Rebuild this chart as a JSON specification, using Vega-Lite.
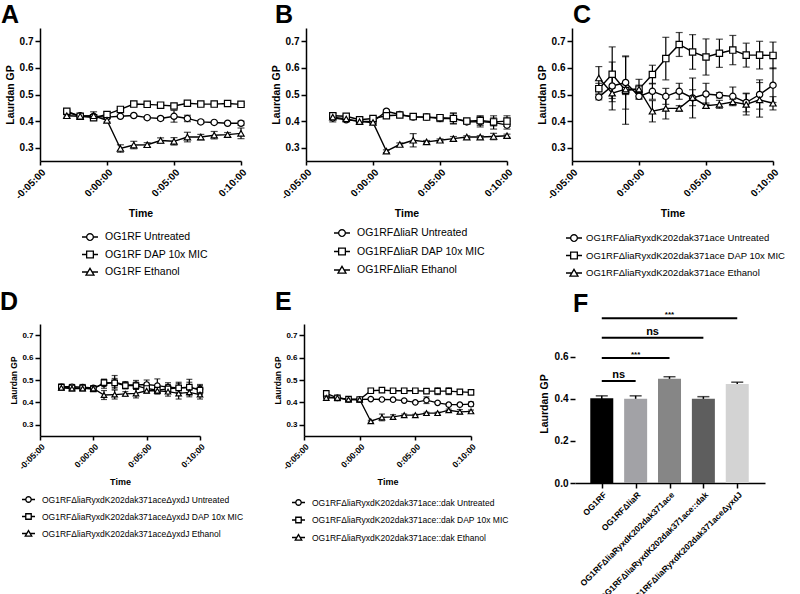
{
"$schema":"https://vega.github.io/schema/vega-lite/v6.json",
"background":"white",
"padding":{"top":3,"left":0,"right":0,"bottom":0},
"config":{"font":"Liberation Sans","view":{"stroke":null},
 "axis":{"grid":false,"domainColor":"black","domainWidth":1.5,"tickColor":"black","tickWidth":1.5,"tickSize":5,"labelColor":"black","labelFontWeight":"bold","titleColor":"black","titleFontWeight":"bold","labelPadding":2,"labelFlush":false},
 "legend":{"labelFont":"Liberation Sans","labelColor":"black","labelLimit":400,"symbolStrokeColor":"black","symbolStrokeWidth":1.3},
 "title":{"anchor":"start","frame":"group","fontSize":25,"fontWeight":"bold","color":"black","baseline":"alphabetic","font":"Liberation Sans"}},
"datasets":{
"ts":[
{"p":"A","g":"Untreated","t":-3,"m":0.432,"e":0.008},{"p":"A","g":"Untreated","t":-2,"m":0.42,"e":0.006},{"p":"A","g":"Untreated","t":-1,"m":0.418,"e":0.005},{"p":"A","g":"Untreated","t":0,"m":0.415,"e":0.006},{"p":"A","g":"Untreated","t":1,"m":0.418,"e":0.004},{"p":"A","g":"Untreated","t":2,"m":0.421,"e":0.004},{"p":"A","g":"Untreated","t":3,"m":0.413,"e":0.004},{"p":"A","g":"Untreated","t":4,"m":0.41,"e":0.006},{"p":"A","g":"Untreated","t":5,"m":0.418,"e":0.022},{"p":"A","g":"Untreated","t":6,"m":0.41,"e":0.012},{"p":"A","g":"Untreated","t":7,"m":0.397,"e":0.006},{"p":"A","g":"Untreated","t":8,"m":0.395,"e":0.004},{"p":"A","g":"Untreated","t":9,"m":0.392,"e":0.003},{"p":"A","g":"Untreated","t":10,"m":0.392,"e":0.008},
{"p":"A","g":"DAP 10x MIC","t":-3,"m":0.437,"e":0.006},{"p":"A","g":"DAP 10x MIC","t":-2,"m":0.418,"e":0.006},{"p":"A","g":"DAP 10x MIC","t":-1,"m":0.413,"e":0.005},{"p":"A","g":"DAP 10x MIC","t":0,"m":0.425,"e":0.01},{"p":"A","g":"DAP 10x MIC","t":1,"m":0.444,"e":0.004},{"p":"A","g":"DAP 10x MIC","t":2,"m":0.464,"e":0.004},{"p":"A","g":"DAP 10x MIC","t":3,"m":0.463,"e":0.004},{"p":"A","g":"DAP 10x MIC","t":4,"m":0.46,"e":0.004},{"p":"A","g":"DAP 10x MIC","t":5,"m":0.457,"e":0.006},{"p":"A","g":"DAP 10x MIC","t":6,"m":0.467,"e":0.005},{"p":"A","g":"DAP 10x MIC","t":7,"m":0.464,"e":0.004},{"p":"A","g":"DAP 10x MIC","t":8,"m":0.464,"e":0.004},{"p":"A","g":"DAP 10x MIC","t":9,"m":0.466,"e":0.004},{"p":"A","g":"DAP 10x MIC","t":10,"m":0.463,"e":0.004},
{"p":"A","g":"Ethanol","t":-3,"m":0.42,"e":0.005},{"p":"A","g":"Ethanol","t":-2,"m":0.418,"e":0.005},{"p":"A","g":"Ethanol","t":-1,"m":0.42,"e":0.015},{"p":"A","g":"Ethanol","t":0,"m":0.403,"e":0.006},{"p":"A","g":"Ethanol","t":1,"m":0.297,"e":0.014},{"p":"A","g":"Ethanol","t":2,"m":0.31,"e":0.014},{"p":"A","g":"Ethanol","t":3,"m":0.311,"e":0.008},{"p":"A","g":"Ethanol","t":4,"m":0.327,"e":0.01},{"p":"A","g":"Ethanol","t":5,"m":0.324,"e":0.014},{"p":"A","g":"Ethanol","t":6,"m":0.34,"e":0.018},{"p":"A","g":"Ethanol","t":7,"m":0.34,"e":0.01},{"p":"A","g":"Ethanol","t":8,"m":0.347,"e":0.014},{"p":"A","g":"Ethanol","t":9,"m":0.349,"e":0.008},{"p":"A","g":"Ethanol","t":10,"m":0.354,"e":0.02},
{"p":"B","g":"Untreated","t":-3,"m":0.412,"e":0.015},{"p":"B","g":"Untreated","t":-2,"m":0.405,"e":0.006},{"p":"B","g":"Untreated","t":-1,"m":0.4,"e":0.006},{"p":"B","g":"Untreated","t":0,"m":0.398,"e":0.008},{"p":"B","g":"Untreated","t":1,"m":0.437,"e":0.006},{"p":"B","g":"Untreated","t":2,"m":0.425,"e":0.006},{"p":"B","g":"Untreated","t":3,"m":0.415,"e":0.005},{"p":"B","g":"Untreated","t":4,"m":0.415,"e":0.005},{"p":"B","g":"Untreated","t":5,"m":0.41,"e":0.012},{"p":"B","g":"Untreated","t":6,"m":0.41,"e":0.02},{"p":"B","g":"Untreated","t":7,"m":0.397,"e":0.006},{"p":"B","g":"Untreated","t":8,"m":0.398,"e":0.02},{"p":"B","g":"Untreated","t":9,"m":0.395,"e":0.025},{"p":"B","g":"Untreated","t":10,"m":0.385,"e":0.015},
{"p":"B","g":"DAP 10x MIC","t":-3,"m":0.42,"e":0.01},{"p":"B","g":"DAP 10x MIC","t":-2,"m":0.418,"e":0.006},{"p":"B","g":"DAP 10x MIC","t":-1,"m":0.405,"e":0.008},{"p":"B","g":"DAP 10x MIC","t":0,"m":0.41,"e":0.008},{"p":"B","g":"DAP 10x MIC","t":1,"m":0.42,"e":0.006},{"p":"B","g":"DAP 10x MIC","t":2,"m":0.423,"e":0.005},{"p":"B","g":"DAP 10x MIC","t":3,"m":0.417,"e":0.005},{"p":"B","g":"DAP 10x MIC","t":4,"m":0.415,"e":0.005},{"p":"B","g":"DAP 10x MIC","t":5,"m":0.413,"e":0.005},{"p":"B","g":"DAP 10x MIC","t":6,"m":0.41,"e":0.02},{"p":"B","g":"DAP 10x MIC","t":7,"m":0.4,"e":0.005},{"p":"B","g":"DAP 10x MIC","t":8,"m":0.402,"e":0.018},{"p":"B","g":"DAP 10x MIC","t":9,"m":0.397,"e":0.015},{"p":"B","g":"DAP 10x MIC","t":10,"m":0.4,"e":0.02},
{"p":"B","g":"Ethanol","t":-3,"m":0.415,"e":0.006},{"p":"B","g":"Ethanol","t":-2,"m":0.408,"e":0.005},{"p":"B","g":"Ethanol","t":-1,"m":0.398,"e":0.005},{"p":"B","g":"Ethanol","t":0,"m":0.395,"e":0.005},{"p":"B","g":"Ethanol","t":1,"m":0.287,"e":0.005},{"p":"B","g":"Ethanol","t":2,"m":0.312,"e":0.006},{"p":"B","g":"Ethanol","t":3,"m":0.328,"e":0.025},{"p":"B","g":"Ethanol","t":4,"m":0.322,"e":0.005},{"p":"B","g":"Ethanol","t":5,"m":0.328,"e":0.005},{"p":"B","g":"Ethanol","t":6,"m":0.334,"e":0.008},{"p":"B","g":"Ethanol","t":7,"m":0.34,"e":0.005},{"p":"B","g":"Ethanol","t":8,"m":0.34,"e":0.005},{"p":"B","g":"Ethanol","t":9,"m":0.342,"e":0.012},{"p":"B","g":"Ethanol","t":10,"m":0.345,"e":0.006},
{"p":"C","g":"Untreated","t":-3,"m":0.49,"e":0.01},{"p":"C","g":"Untreated","t":-2,"m":0.532,"e":0.09},{"p":"C","g":"Untreated","t":-1,"m":0.545,"e":0.1},{"p":"C","g":"Untreated","t":0,"m":0.493,"e":0.01},{"p":"C","g":"Untreated","t":1,"m":0.512,"e":0.03},{"p":"C","g":"Untreated","t":2,"m":0.493,"e":0.03},{"p":"C","g":"Untreated","t":3,"m":0.512,"e":0.03},{"p":"C","g":"Untreated","t":4,"m":0.487,"e":0.075},{"p":"C","g":"Untreated","t":5,"m":0.502,"e":0.04},{"p":"C","g":"Untreated","t":6,"m":0.497,"e":0.01},{"p":"C","g":"Untreated","t":7,"m":0.493,"e":0.035},{"p":"C","g":"Untreated","t":8,"m":0.47,"e":0.035},{"p":"C","g":"Untreated","t":9,"m":0.5,"e":0.055},{"p":"C","g":"Untreated","t":10,"m":0.535,"e":0.065},
{"p":"C","g":"DAP 10x MIC","t":-3,"m":0.522,"e":0.02},{"p":"C","g":"DAP 10x MIC","t":-2,"m":0.576,"e":0.103},{"p":"C","g":"DAP 10x MIC","t":-1,"m":0.515,"e":0.127},{"p":"C","g":"DAP 10x MIC","t":0,"m":0.52,"e":0.037},{"p":"C","g":"DAP 10x MIC","t":1,"m":0.575,"e":0.035},{"p":"C","g":"DAP 10x MIC","t":2,"m":0.635,"e":0.08},{"p":"C","g":"DAP 10x MIC","t":3,"m":0.688,"e":0.045},{"p":"C","g":"DAP 10x MIC","t":4,"m":0.66,"e":0.065},{"p":"C","g":"DAP 10x MIC","t":5,"m":0.641,"e":0.068},{"p":"C","g":"DAP 10x MIC","t":6,"m":0.655,"e":0.053},{"p":"C","g":"DAP 10x MIC","t":7,"m":0.667,"e":0.055},{"p":"C","g":"DAP 10x MIC","t":8,"m":0.648,"e":0.045},{"p":"C","g":"DAP 10x MIC","t":9,"m":0.648,"e":0.052},{"p":"C","g":"DAP 10x MIC","t":10,"m":0.647,"e":0.05},
{"p":"C","g":"Ethanol","t":-3,"m":0.562,"e":0.043},{"p":"C","g":"Ethanol","t":-2,"m":0.505,"e":0.02},{"p":"C","g":"Ethanol","t":-1,"m":0.52,"e":0.02},{"p":"C","g":"Ethanol","t":0,"m":0.52,"e":0.015},{"p":"C","g":"Ethanol","t":1,"m":0.437,"e":0.04},{"p":"C","g":"Ethanol","t":2,"m":0.448,"e":0.04},{"p":"C","g":"Ethanol","t":3,"m":0.448,"e":0.01},{"p":"C","g":"Ethanol","t":4,"m":0.488,"e":0.03},{"p":"C","g":"Ethanol","t":5,"m":0.458,"e":0.01},{"p":"C","g":"Ethanol","t":6,"m":0.463,"e":0.015},{"p":"C","g":"Ethanol","t":7,"m":0.472,"e":0.01},{"p":"C","g":"Ethanol","t":8,"m":0.463,"e":0.04},{"p":"C","g":"Ethanol","t":9,"m":0.48,"e":0.065},{"p":"C","g":"Ethanol","t":10,"m":0.467,"e":0.025},
{"p":"D","g":"Untreated","t":-3,"m":0.47,"e":0.012},{"p":"D","g":"Untreated","t":-2,"m":0.47,"e":0.01},{"p":"D","g":"Untreated","t":-1,"m":0.468,"e":0.012},{"p":"D","g":"Untreated","t":0,"m":0.465,"e":0.01},{"p":"D","g":"Untreated","t":1,"m":0.483,"e":0.02},{"p":"D","g":"Untreated","t":2,"m":0.49,"e":0.03},{"p":"D","g":"Untreated","t":3,"m":0.478,"e":0.015},{"p":"D","g":"Untreated","t":4,"m":0.478,"e":0.02},{"p":"D","g":"Untreated","t":5,"m":0.48,"e":0.02},{"p":"D","g":"Untreated","t":6,"m":0.475,"e":0.03},{"p":"D","g":"Untreated","t":7,"m":0.468,"e":0.02},{"p":"D","g":"Untreated","t":8,"m":0.465,"e":0.025},{"p":"D","g":"Untreated","t":9,"m":0.465,"e":0.025},{"p":"D","g":"Untreated","t":10,"m":0.46,"e":0.02},
{"p":"D","g":"DAP 10x MIC","t":-3,"m":0.468,"e":0.012},{"p":"D","g":"DAP 10x MIC","t":-2,"m":0.465,"e":0.012},{"p":"D","g":"DAP 10x MIC","t":-1,"m":0.465,"e":0.01},{"p":"D","g":"DAP 10x MIC","t":0,"m":0.46,"e":0.01},{"p":"D","g":"DAP 10x MIC","t":1,"m":0.488,"e":0.015},{"p":"D","g":"DAP 10x MIC","t":2,"m":0.487,"e":0.02},{"p":"D","g":"DAP 10x MIC","t":3,"m":0.475,"e":0.015},{"p":"D","g":"DAP 10x MIC","t":4,"m":0.475,"e":0.015},{"p":"D","g":"DAP 10x MIC","t":5,"m":0.462,"e":0.015},{"p":"D","g":"DAP 10x MIC","t":6,"m":0.455,"e":0.015},{"p":"D","g":"DAP 10x MIC","t":7,"m":0.46,"e":0.02},{"p":"D","g":"DAP 10x MIC","t":8,"m":0.465,"e":0.02},{"p":"D","g":"DAP 10x MIC","t":9,"m":0.468,"e":0.035},{"p":"D","g":"DAP 10x MIC","t":10,"m":0.455,"e":0.02},
{"p":"D","g":"Ethanol","t":-3,"m":0.465,"e":0.01},{"p":"D","g":"Ethanol","t":-2,"m":0.462,"e":0.01},{"p":"D","g":"Ethanol","t":-1,"m":0.462,"e":0.01},{"p":"D","g":"Ethanol","t":0,"m":0.462,"e":0.01},{"p":"D","g":"Ethanol","t":1,"m":0.433,"e":0.02},{"p":"D","g":"Ethanol","t":2,"m":0.435,"e":0.02},{"p":"D","g":"Ethanol","t":3,"m":0.438,"e":0.01},{"p":"D","g":"Ethanol","t":4,"m":0.44,"e":0.02},{"p":"D","g":"Ethanol","t":5,"m":0.452,"e":0.01},{"p":"D","g":"Ethanol","t":6,"m":0.452,"e":0.015},{"p":"D","g":"Ethanol","t":7,"m":0.448,"e":0.02},{"p":"D","g":"Ethanol","t":8,"m":0.44,"e":0.025},{"p":"D","g":"Ethanol","t":9,"m":0.445,"e":0.02},{"p":"D","g":"Ethanol","t":10,"m":0.435,"e":0.02},
{"p":"E","g":"Untreated","t":-3,"m":0.425,"e":0.005},{"p":"E","g":"Untreated","t":-2,"m":0.42,"e":0.004},{"p":"E","g":"Untreated","t":-1,"m":0.413,"e":0.004},{"p":"E","g":"Untreated","t":0,"m":0.413,"e":0.004},{"p":"E","g":"Untreated","t":1,"m":0.415,"e":0.004},{"p":"E","g":"Untreated","t":2,"m":0.413,"e":0.004},{"p":"E","g":"Untreated","t":3,"m":0.412,"e":0.004},{"p":"E","g":"Untreated","t":4,"m":0.408,"e":0.004},{"p":"E","g":"Untreated","t":5,"m":0.4,"e":0.004},{"p":"E","g":"Untreated","t":6,"m":0.41,"e":0.015},{"p":"E","g":"Untreated","t":7,"m":0.398,"e":0.004},{"p":"E","g":"Untreated","t":8,"m":0.39,"e":0.004},{"p":"E","g":"Untreated","t":9,"m":0.39,"e":0.004},{"p":"E","g":"Untreated","t":10,"m":0.392,"e":0.01},
{"p":"E","g":"DAP 10x MIC","t":-3,"m":0.44,"e":0.006},{"p":"E","g":"DAP 10x MIC","t":-2,"m":0.42,"e":0.005},{"p":"E","g":"DAP 10x MIC","t":-1,"m":0.415,"e":0.006},{"p":"E","g":"DAP 10x MIC","t":0,"m":0.413,"e":0.005},{"p":"E","g":"DAP 10x MIC","t":1,"m":0.452,"e":0.01},{"p":"E","g":"DAP 10x MIC","t":2,"m":0.455,"e":0.006},{"p":"E","g":"DAP 10x MIC","t":3,"m":0.452,"e":0.008},{"p":"E","g":"DAP 10x MIC","t":4,"m":0.452,"e":0.01},{"p":"E","g":"DAP 10x MIC","t":5,"m":0.452,"e":0.006},{"p":"E","g":"DAP 10x MIC","t":6,"m":0.45,"e":0.006},{"p":"E","g":"DAP 10x MIC","t":7,"m":0.45,"e":0.015},{"p":"E","g":"DAP 10x MIC","t":8,"m":0.45,"e":0.015},{"p":"E","g":"DAP 10x MIC","t":9,"m":0.447,"e":0.006},{"p":"E","g":"DAP 10x MIC","t":10,"m":0.445,"e":0.006},
{"p":"E","g":"Ethanol","t":-3,"m":0.42,"e":0.004},{"p":"E","g":"Ethanol","t":-2,"m":0.42,"e":0.004},{"p":"E","g":"Ethanol","t":-1,"m":0.413,"e":0.004},{"p":"E","g":"Ethanol","t":0,"m":0.413,"e":0.004},{"p":"E","g":"Ethanol","t":1,"m":0.316,"e":0.004},{"p":"E","g":"Ethanol","t":2,"m":0.333,"e":0.015},{"p":"E","g":"Ethanol","t":3,"m":0.335,"e":0.01},{"p":"E","g":"Ethanol","t":4,"m":0.343,"e":0.005},{"p":"E","g":"Ethanol","t":5,"m":0.343,"e":0.004},{"p":"E","g":"Ethanol","t":6,"m":0.352,"e":0.004},{"p":"E","g":"Ethanol","t":7,"m":0.352,"e":0.004},{"p":"E","g":"Ethanol","t":8,"m":0.365,"e":0.005},{"p":"E","g":"Ethanol","t":9,"m":0.358,"e":0.01},{"p":"E","g":"Ethanol","t":10,"m":0.36,"e":0.006}
],
"bars":[
{"i":0,"strain":"OG1RF","m":0.403,"e":0.012},
{"i":1,"strain":"OG1RFΔliaR","m":0.401,"e":0.014},
{"i":2,"strain":"OG1RFΔliaRyxdK202dak371ace","m":0.496,"e":0.01},
{"i":3,"strain":"OG1RFΔliaRyxdK202dak371ace::dak","m":0.401,"e":0.01},
{"i":4,"strain":"OG1RFΔliaRyxdK202dak371aceΔyxdJ","m":0.471,"e":0.009}
],
"sig":[
{"a":0,"b":1,"mid":0.5,"y":0.486,"lab":"ns"},
{"a":0,"b":2,"mid":1,"y":0.595,"lab":"***"},
{"a":0,"b":3,"mid":1.5,"y":0.691,"lab":"ns"},
{"a":0,"b":4,"mid":2,"y":0.784,"lab":"***"}
]},
"resolve":{"scale":{"shape":"independent","color":"independent","x":"independent","y":"independent"},"legend":{"shape":"independent","color":"independent"}},
"spacing":10,
"vconcat":[
{"hconcat":[
{"width":201,"height":133,
 "title":{"text":"A","dx":-39,"offset":0},
 "data":{"name":"ts"},"transform":[{"filter":"datum.p == 'A'"}],
 "encoding":{
  "x":{"field":"t","type":"quantitative","title":"Time","scale":{"domain":[-5,10],"nice":false,"zero":false},"axis":{"values":[-5,0,5,10],"labelExpr":"(datum.value < 0 ? '-' : '') + '0:' + (abs(datum.value) < 10 ? '0' : '') + abs(datum.value) + ':00'","labelAngle":-45,"labelFontSize":10,"titleFontSize":10.5,"titlePadding":8,"tickSize":4}},
  "y":{"field":"m","type":"quantitative","title":"Laurdan GP","scale":{"domain":[0.25,0.75],"nice":false,"zero":false},"axis":{"values":[0.3,0.4,0.5,0.6,0.7],"format":".1f","labelFontSize":10,"titleFontSize":10.5,"titlePadding":4}}},
 "layer":[
  {"mark":{"type":"errorbar","ticks":{"size":7},"color":"black","thickness":1.2},"encoding":{"yError":{"field":"e"}}},
  {"mark":{"type":"line","color":"black","strokeWidth":1.4},"encoding":{"detail":{"field":"g"}}},
  {"mark":{"type":"point","filled":true,"fill":"white","stroke":"black","strokeWidth":1.2,"size":40,"opacity":1},
   "encoding":{"shape":{"field":"g","type":"nominal","scale":{"domain":["Untreated","DAP 10x MIC","Ethanol"],"range":["circle","square","triangle-up"]},"legend":null}}},
  {"transform":[{"filter":"false"}],"mark":{"type":"point","filled":false,"color":"black","strokeWidth":1.3,"opacity":1},
   "encoding":{"shape":{"field":"g","type":"nominal","scale":{"domain":["Untreated","DAP 10x MIC","Ethanol"],"range":["M-1,0H-0.42M0.42,0H1M0.42,0L0.388,0.161L0.297,0.297L0.161,0.388L0,0.42L-0.161,0.388L-0.297,0.297L-0.388,0.161L-0.42,0L-0.388,-0.161L-0.297,-0.297L-0.161,-0.388L0,-0.42L0.161,-0.388L0.297,-0.297L0.388,-0.161Z","M-1,0H-0.42M0.42,0H1M-0.42,-0.42H0.42V0.42H-0.42Z","M-1,0H-0.27M0.27,0H1M0,-0.45L0.5,0.4H-0.5Z"]},
    "legend":{"orient":"none","legendX":41,"legendY":200,"direction":"vertical","title":null,"labelExpr":"'OG1RF ' + datum.label","labelFontSize":10.5,"symbolSize":256,"rowPadding":2.5,"labelOffset":6,"symbolStrokeColor":"black"}}}}
 ],
 "resolve":{"scale":{"shape":"independent"},"legend":{"shape":"independent"}}},
{"width":201,"height":133,
 "title":{"text":"B","dx":-31,"offset":0},
 "data":{"name":"ts"},"transform":[{"filter":"datum.p == 'B'"}],
 "encoding":{
  "x":{"field":"t","type":"quantitative","title":"Time","scale":{"domain":[-5,10],"nice":false,"zero":false},"axis":{"values":[-5,0,5,10],"labelExpr":"(datum.value < 0 ? '-' : '') + '0:' + (abs(datum.value) < 10 ? '0' : '') + abs(datum.value) + ':00'","labelAngle":-45,"labelFontSize":10,"titleFontSize":10.5,"titlePadding":8,"tickSize":4}},
  "y":{"field":"m","type":"quantitative","title":"Laurdan GP","scale":{"domain":[0.25,0.75],"nice":false,"zero":false},"axis":{"values":[0.3,0.4,0.5,0.6,0.7],"format":".1f","labelFontSize":10,"titleFontSize":10.5,"titlePadding":4}}},
 "layer":[
  {"mark":{"type":"errorbar","ticks":{"size":7},"color":"black","thickness":1.2},"encoding":{"yError":{"field":"e"}}},
  {"mark":{"type":"line","color":"black","strokeWidth":1.4},"encoding":{"detail":{"field":"g"}}},
  {"mark":{"type":"point","filled":true,"fill":"white","stroke":"black","strokeWidth":1.2,"size":40,"opacity":1},
   "encoding":{"shape":{"field":"g","type":"nominal","scale":{"domain":["Untreated","DAP 10x MIC","Ethanol"],"range":["circle","square","triangle-up"]},"legend":null}}},
  {"transform":[{"filter":"false"}],"mark":{"type":"point","filled":false,"color":"black","strokeWidth":1.3,"opacity":1},
   "encoding":{"shape":{"field":"g","type":"nominal","scale":{"domain":["Untreated","DAP 10x MIC","Ethanol"],"range":["M-1,0H-0.42M0.42,0H1M0.42,0L0.388,0.161L0.297,0.297L0.161,0.388L0,0.42L-0.161,0.388L-0.297,0.297L-0.388,0.161L-0.42,0L-0.388,-0.161L-0.297,-0.297L-0.161,-0.388L0,-0.42L0.161,-0.388L0.297,-0.297L0.388,-0.161Z","M-1,0H-0.42M0.42,0H1M-0.42,-0.42H0.42V0.42H-0.42Z","M-1,0H-0.27M0.27,0H1M0,-0.45L0.5,0.4H-0.5Z"]},
    "legend":{"orient":"none","legendX":27,"legendY":196,"direction":"vertical","title":null,"labelExpr":"'OG1RFΔliaR ' + datum.label","labelFontSize":10.5,"symbolSize":256,"rowPadding":3.5,"labelOffset":6,"symbolStrokeColor":"black"}}}}
 ],
 "resolve":{"scale":{"shape":"independent"},"legend":{"shape":"independent"}}},
{"width":201,"height":133,
 "title":{"text":"C","dx":1,"offset":0},
 "data":{"name":"ts"},"transform":[{"filter":"datum.p == 'C'"}],
 "encoding":{
  "x":{"field":"t","type":"quantitative","title":"Time","scale":{"domain":[-5,10],"nice":false,"zero":false},"axis":{"values":[-5,0,5,10],"labelExpr":"(datum.value < 0 ? '-' : '') + '0:' + (abs(datum.value) < 10 ? '0' : '') + abs(datum.value) + ':00'","labelAngle":-45,"labelFontSize":10,"titleFontSize":10.5,"titlePadding":8,"tickSize":4}},
  "y":{"field":"m","type":"quantitative","title":"Laurdan GP","scale":{"domain":[0.25,0.75],"nice":false,"zero":false},"axis":{"values":[0.3,0.4,0.5,0.6,0.7],"format":".1f","labelFontSize":10,"titleFontSize":10.5,"titlePadding":4}}},
 "layer":[
  {"mark":{"type":"errorbar","ticks":{"size":7},"color":"black","thickness":1.2},"encoding":{"yError":{"field":"e"}}},
  {"mark":{"type":"line","color":"black","strokeWidth":1.4},"encoding":{"detail":{"field":"g"}}},
  {"mark":{"type":"point","filled":true,"fill":"white","stroke":"black","strokeWidth":1.2,"size":40,"opacity":1},
   "encoding":{"shape":{"field":"g","type":"nominal","scale":{"domain":["Untreated","DAP 10x MIC","Ethanol"],"range":["circle","square","triangle-up"]},"legend":null}}},
  {"transform":[{"filter":"false"}],"mark":{"type":"point","filled":false,"color":"black","strokeWidth":1.3,"opacity":1},
   "encoding":{"shape":{"field":"g","type":"nominal","scale":{"domain":["Untreated","DAP 10x MIC","Ethanol"],"range":["M-1,0H-0.42M0.42,0H1M0.42,0L0.388,0.161L0.297,0.297L0.161,0.388L0,0.42L-0.161,0.388L-0.297,0.297L-0.388,0.161L-0.42,0L-0.388,-0.161L-0.297,-0.297L-0.161,-0.388L0,-0.42L0.161,-0.388L0.297,-0.297L0.388,-0.161Z","M-1,0H-0.42M0.42,0H1M-0.42,-0.42H0.42V0.42H-0.42Z","M-1,0H-0.27M0.27,0H1M0,-0.45L0.5,0.4H-0.5Z"]},
    "legend":{"orient":"none","legendX":-7,"legendY":201,"direction":"vertical","title":null,"labelExpr":"'OG1RFΔliaRyxdK202dak371ace ' + datum.label","labelFontSize":9.5,"symbolSize":256,"rowPadding":2.5,"labelOffset":3,"symbolStrokeColor":"black"}}}}
 ],
 "resolve":{"scale":{"shape":"independent"},"legend":{"shape":"independent"}}}
],"spacing":65,"bounds":"flush",
"resolve":{"scale":{"shape":"independent","x":"independent","y":"independent"},"legend":{"shape":"independent"}}},
{"hconcat":[
{"width":160,"height":112,
 "title":{"text":"D","dx":-40,"offset":9.5},
 "data":{"name":"ts"},"transform":[{"filter":"datum.p == 'D'"}],
 "encoding":{
  "x":{"field":"t","type":"quantitative","title":"Time","scale":{"domain":[-5,10],"nice":false,"zero":false},"axis":{"values":[-5,0,5,10],"labelExpr":"(datum.value < 0 ? '-' : '') + '0:' + (abs(datum.value) < 10 ? '0' : '') + abs(datum.value) + ':00'","labelAngle":-45,"labelFontSize":8.5,"titleFontSize":9,"titlePadding":7,"tickSize":4}},
  "y":{"field":"m","type":"quantitative","title":"Laurdan GP","scale":{"domain":[0.25,0.75],"nice":false,"zero":false},"axis":{"values":[0.3,0.4,0.5,0.6,0.7],"format":".1f","labelFontSize":8,"titleFontSize":8.5,"titlePadding":3,"tickSize":5}}},
 "layer":[
  {"mark":{"type":"errorbar","ticks":{"size":6},"color":"black","thickness":1.2},"encoding":{"yError":{"field":"e"}}},
  {"mark":{"type":"line","color":"black","strokeWidth":1.3},"encoding":{"detail":{"field":"g"}}},
  {"mark":{"type":"point","filled":true,"fill":"white","stroke":"black","strokeWidth":1.2,"size":30,"opacity":1},
   "encoding":{"shape":{"field":"g","type":"nominal","scale":{"domain":["Untreated","DAP 10x MIC","Ethanol"],"range":["circle","square","triangle-up"]},"legend":null}}},
  {"transform":[{"filter":"false"}],"mark":{"type":"point","filled":false,"color":"black","strokeWidth":1.2,"opacity":1},
   "encoding":{"shape":{"field":"g","type":"nominal","scale":{"domain":["Untreated","DAP 10x MIC","Ethanol"],"range":["M-1,0H-0.42M0.42,0H1M0.42,0L0.388,0.161L0.297,0.297L0.161,0.388L0,0.42L-0.161,0.388L-0.297,0.297L-0.388,0.161L-0.42,0L-0.388,-0.161L-0.297,-0.297L-0.161,-0.388L0,-0.42L0.161,-0.388L0.297,-0.297L0.388,-0.161Z","M-1,0H-0.42M0.42,0H1M-0.42,-0.42H0.42V0.42H-0.42Z","M-1,0H-0.27M0.27,0H1M0,-0.45L0.5,0.4H-0.5Z"]},
    "legend":{"orient":"none","legendX":-19,"legendY":168,"direction":"vertical","title":null,"labelExpr":"'OG1RFΔliaRyxdK202dak371aceΔyxdJ ' + datum.label","labelFontSize":8.5,"symbolSize":169,"rowPadding":4,"labelOffset":6,"symbolStrokeColor":"black"}}}}
 ],
 "resolve":{"scale":{"shape":"independent"},"legend":{"shape":"independent"}}},
{"width":167,"height":112,
 "title":{"text":"E","dx":-29,"offset":9.5},
 "data":{"name":"ts"},"transform":[{"filter":"datum.p == 'E'"}],
 "encoding":{
  "x":{"field":"t","type":"quantitative","title":"Time","scale":{"domain":[-5,10],"nice":false,"zero":false},"axis":{"values":[-5,0,5,10],"labelExpr":"(datum.value < 0 ? '-' : '') + '0:' + (abs(datum.value) < 10 ? '0' : '') + abs(datum.value) + ':00'","labelAngle":-45,"labelFontSize":8.5,"titleFontSize":9,"titlePadding":7,"tickSize":4}},
  "y":{"field":"m","type":"quantitative","title":"Laurdan GP","scale":{"domain":[0.25,0.75],"nice":false,"zero":false},"axis":{"values":[0.3,0.4,0.5,0.6,0.7],"format":".1f","labelFontSize":8,"titleFontSize":8.5,"titlePadding":3,"tickSize":5}}},
 "layer":[
  {"mark":{"type":"errorbar","ticks":{"size":6},"color":"black","thickness":1.2},"encoding":{"yError":{"field":"e"}}},
  {"mark":{"type":"line","color":"black","strokeWidth":1.3},"encoding":{"detail":{"field":"g"}}},
  {"mark":{"type":"point","filled":true,"fill":"white","stroke":"black","strokeWidth":1.2,"size":30,"opacity":1},
   "encoding":{"shape":{"field":"g","type":"nominal","scale":{"domain":["Untreated","DAP 10x MIC","Ethanol"],"range":["circle","square","triangle-up"]},"legend":null}}},
  {"transform":[{"filter":"false"}],"mark":{"type":"point","filled":false,"color":"black","strokeWidth":1.2,"opacity":1},
   "encoding":{"shape":{"field":"g","type":"nominal","scale":{"domain":["Untreated","DAP 10x MIC","Ethanol"],"range":["M-1,0H-0.42M0.42,0H1M0.42,0L0.388,0.161L0.297,0.297L0.161,0.388L0,0.42L-0.161,0.388L-0.297,0.297L-0.388,0.161L-0.42,0L-0.388,-0.161L-0.297,-0.297L-0.161,-0.388L0,-0.42L0.161,-0.388L0.297,-0.297L0.388,-0.161Z","M-1,0H-0.42M0.42,0H1M-0.42,-0.42H0.42V0.42H-0.42Z","M-1,0H-0.27M0.27,0H1M0,-0.45L0.5,0.4H-0.5Z"]},
    "legend":{"orient":"none","legendX":-13,"legendY":171,"direction":"vertical","title":null,"labelExpr":"'OG1RFΔliaRyxdK202dak371ace::dak ' + datum.label","labelFontSize":8.5,"symbolSize":169,"rowPadding":4.5,"labelOffset":6,"symbolStrokeColor":"black"}}}}
 ],
 "resolve":{"scale":{"shape":"independent"},"legend":{"shape":"independent"}}},
{"width":190,"height":159,
 "title":{"text":"F","dx":-2,"offset":-5.5},
 "layer":[
  {"data":{"name":"bars"},"mark":{"type":"errorbar","ticks":{"size":12},"color":"black","thickness":1.5},
   "encoding":{"x":{"field":"i","type":"quantitative","title":null,"scale":{"domain":[-0.643,4.672],"nice":false,"zero":false},
     "axis":{"values":[0,1,2,3,4],"labelExpr":"['OG1RF','OG1RFΔliaR','OG1RFΔliaRyxdK202dak371ace','OG1RFΔliaRyxdK202dak371ace::dak','OG1RFΔliaRyxdK202dak371aceΔyxdJ'][datum.value]","labelAngle":-45,"labelFontSize":8.5,"tickSize":5,"labelLimit":300,"labelOverlap":false}},
    "y":{"field":"m","type":"quantitative","title":"Laurdan GP","scale":{"domain":[0,0.757],"nice":false,"zero":true},"axis":{"values":[0,0.2,0.4,0.6],"format":".1f","domain":false,"labelFontSize":10,"titleFontSize":10.5,"titlePadding":5}},
    "yError":{"field":"e"}}},
  {"data":{"name":"bars"},"mark":{"type":"bar","width":23,"orient":"vertical"},
   "encoding":{"x":{"field":"i","type":"quantitative"},"y":{"field":"m","type":"quantitative","stack":null},
    "color":{"field":"strain","type":"nominal","scale":{"domain":["OG1RF","OG1RFΔliaR","OG1RFΔliaRyxdK202dak371ace","OG1RFΔliaRyxdK202dak371ace::dak","OG1RFΔliaRyxdK202dak371aceΔyxdJ"],"range":["#000000","#a2a2a6","#868686","#5e5e5e","#d3d3d3"]},"legend":null}}},
  {"mark":{"type":"rule","color":"black","strokeWidth":1.5},"encoding":{"x":{"datum":-0.643},"y":{"datum":0},"y2":{"datum":0.6}}},
  {"data":{"name":"sig"},"mark":{"type":"rule","color":"black","strokeWidth":2},
   "encoding":{"x":{"field":"a","type":"quantitative"},"x2":{"field":"b"},"y":{"field":"y","type":"quantitative"}}},
  {"data":{"name":"sig"},"transform":[{"filter":"datum.lab == 'ns'"}],"mark":{"type":"text","fontSize":11,"fontWeight":"bold","baseline":"alphabetic","dy":-3,"color":"black"},
   "encoding":{"x":{"field":"mid","type":"quantitative"},"y":{"field":"y","type":"quantitative"},"text":{"field":"lab"}}},
  {"data":{"name":"sig"},"transform":[{"filter":"datum.lab == '***'"}],"mark":{"type":"text","fontSize":8,"fontWeight":"bold","baseline":"alphabetic","dy":-1,"color":"black"},
   "encoding":{"x":{"field":"mid","type":"quantitative"},"y":{"field":"y","type":"quantitative"},"text":{"field":"lab"}}}
 ]}
],"spacing":104,"bounds":"flush",
"resolve":{"scale":{"shape":"independent","color":"independent","x":"independent","y":"independent"},"legend":{"shape":"independent","color":"independent"}}}
]}
